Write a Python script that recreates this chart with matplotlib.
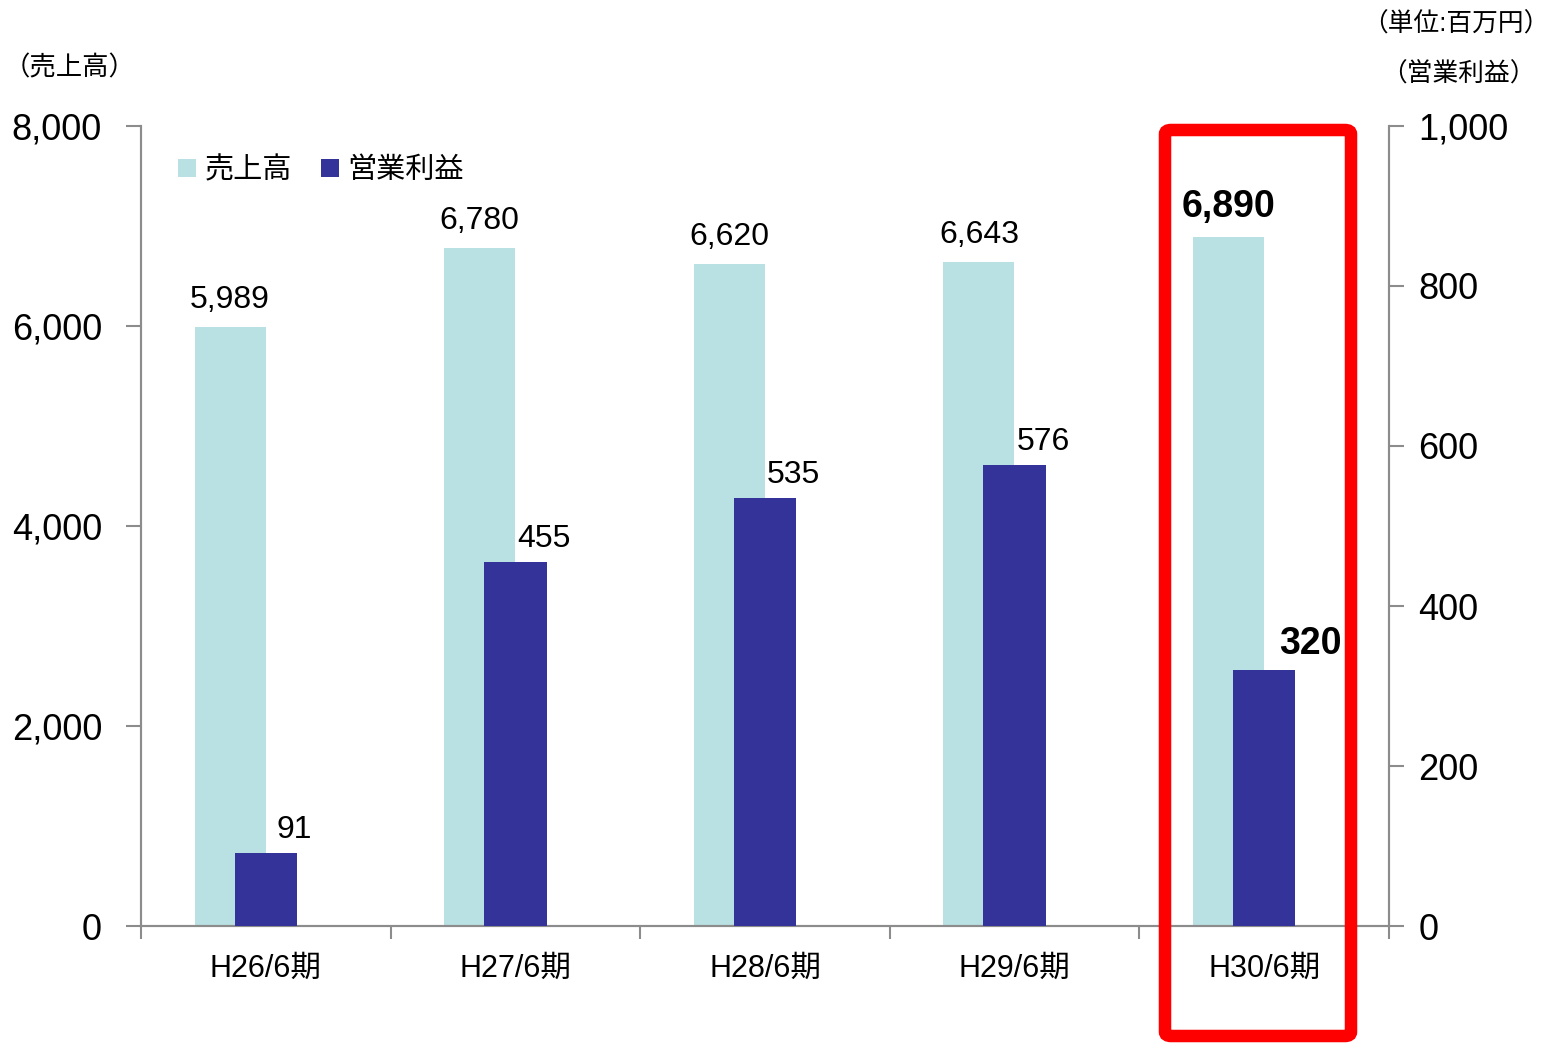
import matplotlib.pyplot as plt
from matplotlib.patches import FancyBboxPatch
import numpy as np

plt.rcParams['font.family'] = ['Liberation Sans', 'Noto Sans CJK JP', 'DejaVu Sans']

# データ(単位:百万円)
kikan = ["H26/6期", "H27/6期", "H28/6期", "H29/6期", "H30/6期"]
uriage = [5989, 6780, 6620, 6643, 6890]
eigyo_rieki = [91, 455, 535, 576, 320]
uriage_ticks = [0, 2000, 4000, 6000, 8000]
rieki_ticks = [0, 200, 400, 600, 800, 1000]

color_uriage = "#B9E0E3"
color_rieki = "#343399"
gris = "#8C8C8C"

fig = plt.figure(figsize=(15.5, 10.43), dpi=100)
ax = fig.add_axes([141/1550, 1 - 926/1043, (1389-141)/1550, (926-126)/1043])
ax2 = ax.twinx()

x = np.arange(len(kikan))
ancho1 = 0.285
ancho2 = 0.25
b1 = ax.bar(x - 0.143, uriage, width=ancho1, color=color_uriage, label="売上高", zorder=2)
b2 = ax2.bar(x, eigyo_rieki, width=ancho2, color=color_rieki, label="営業利益", zorder=3)

ax.set_xlim(-0.5, len(kikan) - 0.5)
ax.set_ylim(0, 8000)
ax2.set_ylim(0, 1000)
ax.set_yticks(uriage_ticks)
ax.set_yticklabels([f"{v:,}" for v in uriage_ticks], fontsize=26)
ax2.set_yticks(rieki_ticks)
ax2.set_yticklabels([f"{v:,}" for v in rieki_ticks], fontsize=26)

# ticks de eje x en los bordes de categoria
ax.set_xticks(np.arange(len(kikan) + 1) - 0.5)
ax.set_xticklabels([])
ax.set_xticks(x, minor=True)
ax.set_xticklabels(kikan, minor=True, fontsize=22)
ax.tick_params(axis="x", which="minor", length=0, pad=20)
ax.tick_params(axis="x", which="major", length=9, color=gris, width=1.5, direction="out")
ax.tick_params(axis="y", length=11, color=gris, width=1.5, pad=17)
ax2.tick_params(axis="y", length=11, color=gris, width=1.5, pad=10)

for a in (ax, ax2):
    a.spines["top"].set_visible(False)
    for s in ("left", "right", "bottom"):
        a.spines[s].set_color(gris)
        a.spines[s].set_linewidth(1.5)

# etiquetas de valores
for i in range(len(kikan)):
    ultimo = i == len(kikan) - 1
    ax.text(x[i] - 0.143, uriage[i] + 120, f"{uriage[i]:,}", ha="center", va="bottom",
            fontsize=27 if ultimo else 23, fontweight="bold" if ultimo else "normal", zorder=5)
    ax2.text(x[i] + (0.185 if ultimo else 0.115), eigyo_rieki[i] + 10, f"{eigyo_rieki[i]:,}",
             ha="center", va="bottom",
             fontsize=27 if ultimo else 23, fontweight="bold" if ultimo else "normal", zorder=5)

# leyenda
h1, l1 = ax.get_legend_handles_labels()
h2, l2 = ax2.get_legend_handles_labels()
ax2.legend(h1 + h2, l1 + l2, loc="upper left", bbox_to_anchor=(0.009, 0.995), ncol=2,
           frameon=False, fontsize=21, handlelength=0.6, handleheight=0.6,
           handletextpad=0.3, columnspacing=1.0)

fig.text(4/1550, 1 - 68/1043, "（売上高）", fontsize=19, ha="left", va="center")
fig.text(1550/1550, 1 - 24/1043, "（単位:百万円）", fontsize=18.5, ha="right", va="center")
fig.text(1536/1550, 1 - 74/1043, "（営業利益）", fontsize=18.5, ha="right", va="center")

# recuadro rojo
caja = FancyBboxPatch((1165/1550, 1 - 1036/1043), (1351-1165)/1550, (1036-130)/1043,
                      boxstyle="round,pad=0,rounding_size=0.004", transform=fig.transFigure,
                      fill=False, edgecolor="#FF0000", linewidth=9, zorder=10)
fig.patches.append(caja)

fig.savefig("out.png", dpi=100)
